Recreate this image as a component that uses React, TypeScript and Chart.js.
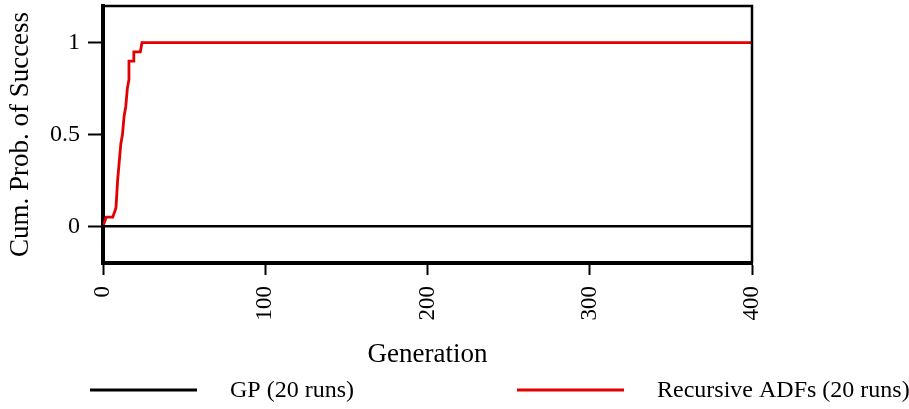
import React, { useEffect, useRef } from "react";
import { Chart, registerables } from "chart.js";

Chart.register(...registerables);

// ---- data ----
const gpGenerations = [0, 400];
const gpValues = [0, 0];

const adfGenerations = [0, 2, 6, 8, 9, 10, 11, 12, 13, 14, 15, 16, 16, 19, 19, 23, 24, 400];
const adfValues = [0, 0.05, 0.05, 0.1, 0.25, 0.35, 0.45, 0.5, 0.6, 0.65, 0.75, 0.8, 0.9, 0.9, 0.95, 0.95, 1, 1];

const seriesLabels = ["GP (20 runs)", "Recursive ADFs (20 runs)"];
const xTicks = [0, 100, 200, 300, 400];
const yTicks = [0, 0.5, 1];

const FONT = "'Liberation Serif', 'Times New Roman', serif";

const frameLegendPlugin = {
  id: "frameLegend",
  afterDraw(chart: any) {
    const { ctx, chartArea } = chart;
    ctx.save();
    ctx.strokeStyle = "#000";
    ctx.lineWidth = 2.5;
    ctx.beginPath();
    ctx.moveTo(chartArea.left, chartArea.top);
    ctx.lineTo(chartArea.right, chartArea.top);
    ctx.lineTo(chartArea.right, chartArea.bottom);
    ctx.stroke();

    // legend
    const starts = [90, 517];
    const lineLen = 107;
    const textOffset = 140;
    const y = 390;
    chart.data.datasets.forEach((ds: any, i: number) => {
      const x0 = starts[i];
      ctx.strokeStyle = ds.borderColor;
      ctx.lineWidth = 3;
      ctx.beginPath();
      ctx.moveTo(x0, y);
      ctx.lineTo(x0 + lineLen, y);
      ctx.stroke();
      ctx.fillStyle = "#000";
      ctx.font = `24px ${FONT}`;
      ctx.textAlign = "left";
      ctx.textBaseline = "middle";
      ctx.fillText(ds.label, x0 + textOffset, y + 1);
    });
    ctx.restore();
  },
};

export default function App() {
  const ref = useRef<HTMLCanvasElement | null>(null);

  useEffect(() => {
    if (!ref.current) return;
    Chart.defaults.color = "#000";
    const chart = new Chart(ref.current, {
      type: "line",
      data: {
        datasets: [
          {
            label: seriesLabels[0],
            data: gpGenerations.map((g, i) => ({ x: g, y: gpValues[i] })),
            borderColor: "#000000",
            borderWidth: 2.5,
            pointRadius: 0,
            tension: 0,
          },
          {
            label: seriesLabels[1],
            data: adfGenerations.map((g, i) => ({ x: g, y: adfValues[i] })),
            borderColor: "#e30000",
            borderWidth: 2.8,
            pointRadius: 0,
            tension: 0,
          },
        ],
      },
      options: {
        animation: false,
        responsive: false,
        layout: { padding: { left: 0, right: 157, top: 6, bottom: 0 } },
        plugins: { legend: { display: false }, tooltip: { enabled: false } },
        scales: {
          x: {
            type: "linear",
            min: 0,
            max: 400,
            afterBuildTicks: (s: any) => {
              s.ticks = xTicks.map((v) => ({ value: v }));
            },
            afterFit: (s: any) => {
              s.height = 146;
              s.paddingLeft = 0;
              s.paddingRight = 0;
            },
            border: { display: true, color: "#000", width: 4 },
            grid: {
              display: true,
              drawOnChartArea: false,
              drawTicks: true,
              tickLength: 12,
              tickWidth: 2,
              tickColor: "#000",
              color: "#000",
            },
            ticks: {
              autoSkip: false,
              minRotation: 90,
              maxRotation: 90,
              padding: 11,
              color: "#000",
              font: { family: FONT, size: 23 },
              callback: (v: any) => String(v),
            },
            title: {
              display: true,
              text: "Generation",
              color: "#000",
              font: { family: FONT, size: 27 },
              padding: { top: 0, bottom: 38 },
            },
          },
          y: {
            type: "linear",
            min: -0.2,
            max: 1.2,
            afterBuildTicks: (s: any) => {
              s.ticks = yTicks.map((v) => ({ value: v }));
            },
            afterFit: (s: any) => {
              s.width = 103;
              s.paddingTop = 0;
              s.paddingBottom = 0;
            },
            border: { display: true, color: "#000", width: 4 },
            grid: {
              display: true,
              drawOnChartArea: false,
              drawTicks: true,
              tickLength: 15,
              tickWidth: 2,
              tickColor: "#000",
              color: "#000",
            },
            ticks: {
              padding: 8,
              color: "#000",
              font: { family: FONT, size: 24 },
              callback: (v: any) => String(v),
            },
            title: {
              display: true,
              text: "Cum. Prob. of Success",
              color: "#000",
              font: { family: FONT, size: 27 },
              padding: { top: 5, bottom: 0 },
            },
          },
        },
      },
      plugins: [frameLegendPlugin],
    });
    return () => chart.destroy();
  }, []);

  return (
    <div style={{ position: "absolute", left: 0, top: 0, width: 909, height: 409, background: "#fff" }}>
      <canvas ref={ref} width={909} height={409} style={{ display: "block" }} />
    </div>
  );
}
